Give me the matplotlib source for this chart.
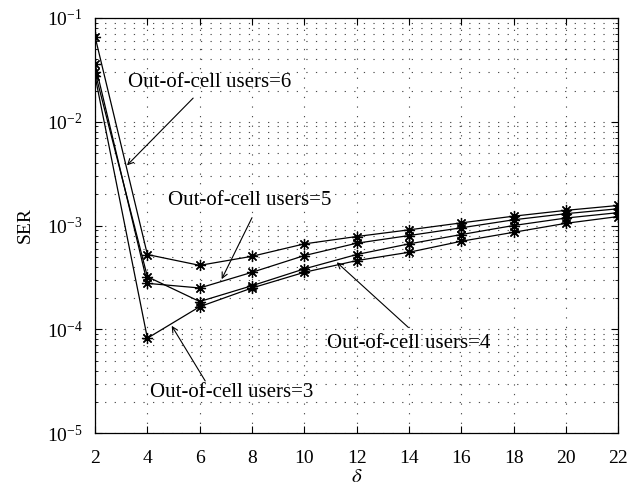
import numpy as np
import matplotlib
matplotlib.use("Agg")
import matplotlib.pyplot as plt
from matplotlib.ticker import LogLocator, NullFormatter

plt.rcParams['font.family'] = ['Liberation Serif', 'DejaVu Serif']
plt.rcParams['mathtext.fontset'] = 'stix'
plt.rcParams['lines.scale_dashes'] = False

# delta values on the x axis
delta = [2, 4, 6, 8, 10, 12, 14, 16, 18, 20, 22]

# SER, one list per number of out-of-cell users
ser_users6 = [0.066, 5.25e-4, 4.13e-4, 5.05e-4, 6.65e-4, 7.83e-4, 9.08e-4, 1.06e-3, 1.23e-3, 1.40e-3, 1.56e-3]
ser_users5 = [0.036, 2.77e-4, 2.50e-4, 3.54e-4, 5.13e-4, 6.75e-4, 8.0e-4, 9.5e-4, 1.135e-3, 1.30e-3, 1.45e-3]
ser_users4 = [0.030, 3.21e-4, 1.85e-4, 2.63e-4, 3.82e-4, 5.25e-4, 6.65e-4, 8.18e-4, 1.0e-3, 1.18e-3, 1.33e-3]
ser_users3 = [0.0275, 8.2e-5, 1.65e-4, 2.50e-4, 3.54e-4, 4.59e-4, 5.52e-4, 7.05e-4, 8.6e-4, 1.05e-3, 1.22e-3]

xticks = [2, 4, 6, 8, 10, 12, 14, 16, 18, 20, 22]

fig = plt.figure(figsize=(6.38, 4.86), dpi=100)
ax = fig.add_axes([0.149, 0.109, 0.820, 0.854])

for ser in (ser_users6, ser_users5, ser_users4, ser_users3):
    ax.semilogy(delta, ser, color='k', linewidth=0.9, marker=(8, 2, 0),
                markersize=8, markeredgewidth=0.9, markerfacecolor='none')

ax.set_xlim(2, 22)
ax.set_ylim(1e-5, 1e-1)
ax.set_xticks(xticks)
ax.yaxis.set_major_locator(LogLocator(base=10, numticks=10))
ax.yaxis.set_minor_locator(LogLocator(base=10, subs=np.arange(2, 10), numticks=20))
ax.yaxis.set_minor_formatter(NullFormatter())

dots = (0, (0.9, 6.0))
ax.grid(True, which='major', axis='both', color='0.3', linestyle=dots, linewidth=0.8)
ax.grid(True, which='minor', axis='y', color='0.3', linestyle=dots, linewidth=0.8)

ax.tick_params(which='both', direction='in', top=True, right=True, labelsize=14)
ax.tick_params(which='major', length=5, width=0.8)
ax.tick_params(which='minor', length=2.5, width=0.6)
ax.tick_params(axis='x', pad=12)
ax.tick_params(axis='y', pad=9)
for sp in ax.spines.values():
    sp.set_linewidth(0.9)

ax.set_xlabel(r'$\delta$', fontsize=15, labelpad=1)
ax.set_ylabel('SER', fontsize=14, labelpad=9)

arrow = dict(arrowstyle='->', color='k', linewidth=0.8, shrinkA=0, shrinkB=0)
fs = 15
ax.annotate('', xy=(3.22, 3.8e-3), xytext=(5.75, 0.0169), arrowprops=arrow)
ax.text(3.26, 0.0241, 'Out-of-cell users=6', fontsize=fs, va='center', ha='left')

ax.annotate('', xy=(6.84, 3.04e-4), xytext=(8.0, 1.19e-3), arrowprops=arrow)
ax.text(4.79, 1.75e-3, 'Out-of-cell users=5', fontsize=fs, va='center', ha='left')

ax.annotate('', xy=(11.24, 4.42e-4), xytext=(13.98, 1.04e-4), arrowprops=arrow)
ax.text(10.86, 7.24e-5, 'Out-of-cell users=4', fontsize=fs, va='center', ha='left')

ax.annotate('', xy=(4.93, 1.08e-4), xytext=(6.21, 3.18e-5), arrowprops=arrow)
ax.text(4.10, 2.45e-5, 'Out-of-cell users=3', fontsize=fs, va='center', ha='left')

fig.savefig('out.png', dpi=100)
